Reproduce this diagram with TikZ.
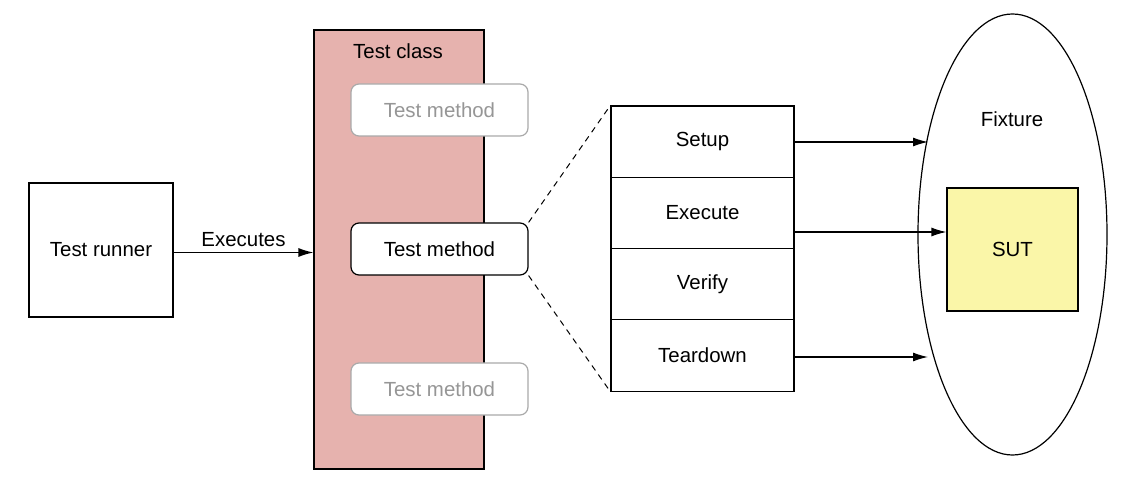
\documentclass[tikz,border=0pt]{standalone}
\usepackage{fontspec}
\setmainfont{Liberation Sans}
\usetikzlibrary{arrows.meta,positioning,calc,shapes.geometric}
\definecolor{classfill}{RGB}{230,178,174}
\definecolor{sutfill}{RGB}{250,246,168}
\definecolor{fadegray}{RGB}{150,150,150}
\definecolor{fadeline}{RGB}{170,170,170}
\tikzset{
  lbl/.style={font=\fontsize{20.5}{24}\selectfont},
  plainbox/.style={draw=black, line width=1.2bp, fill=white, inner sep=0pt},
  methodbox/.style={draw=black, line width=1.2bp, fill=white, rounded corners=8bp, minimum width=177bp, minimum height=52bp, inner sep=0pt, lbl},
  fadedbox/.style={methodbox, draw=fadeline, text=fadegray},
  stepcell/.style={draw=black, line width=1.2bp, fill=white, minimum width=183bp, minimum height=71.25bp, inner sep=0pt, lbl},
  conn/.style={line width=1.2bp, -{Latex[length=15bp,width=9bp]}},
  dashconn/.style={line width=1bp, dashed, dash pattern=on 6bp off 5bp},
}
\begin{document}
\begin{tikzpicture}[x=1bp,y=-1bp]
\useasboundingbox (0,0) rectangle (1122,496);
% test runner
\node[plainbox, minimum width=144bp, minimum height=134bp, lbl] (runner) at (101,250) {Test runner};
% test class
\node[draw=black, line width=1.2bp, fill=classfill, minimum width=170bp, minimum height=439bp, inner sep=0pt] (class) at (399,249.5) {};
\node[lbl] (classlbl) at (398,51) {Test class};
% methods
\node[fadedbox] (m1) at (439.5,110) {Test method};
\node[methodbox] (m2) at (439.5,249) {Test method};
\node[fadedbox] (m3) at (439.5,389) {Test method};
% executes arrow
\draw[conn] (runner.east |- 0,252.5) -- node[lbl, above=2bp] (exlbl) {Executes} (class.west |- 0,252.5);
% steps
\node[stepcell] (setup) at (702.5,141.6) {Setup};
\node[stepcell] (execute) at (702.5,213) {Execute};
\node[stepcell] (verify) at (702.5,284.5) {Verify};
\node[stepcell] (teardown) at (702.5,355.5) {Teardown};
% dashed lines
\draw[dashconn] (m2.north east) -- (setup.north west);
\draw[dashconn] (m2.south east) -- (teardown.south west);
% fixture
\node[draw=black, line width=1.2bp, fill=white, ellipse, minimum width=189bp, minimum height=441bp, inner sep=0pt] (fix) at (1012.5,234.5) {};
\node[lbl] (fixlbl) at (1012,119) {Fixture};
\node[draw=black, line width=1.2bp, fill=sutfill, minimum width=131bp, minimum height=123bp, inner sep=0pt, lbl] (sut) at (1012.5,249.5) {SUT};
% arrows
\coordinate (a1) at (928,142);
\coordinate (a3) at (928,357);
\draw[conn] (setup.east |- a1) -- (a1);
\draw[conn] (execute.east |- 0,232) -- (sut.west |- 0,232);
\draw[conn] (teardown.east |- a3) -- (a3);
\end{tikzpicture}
\end{document}
